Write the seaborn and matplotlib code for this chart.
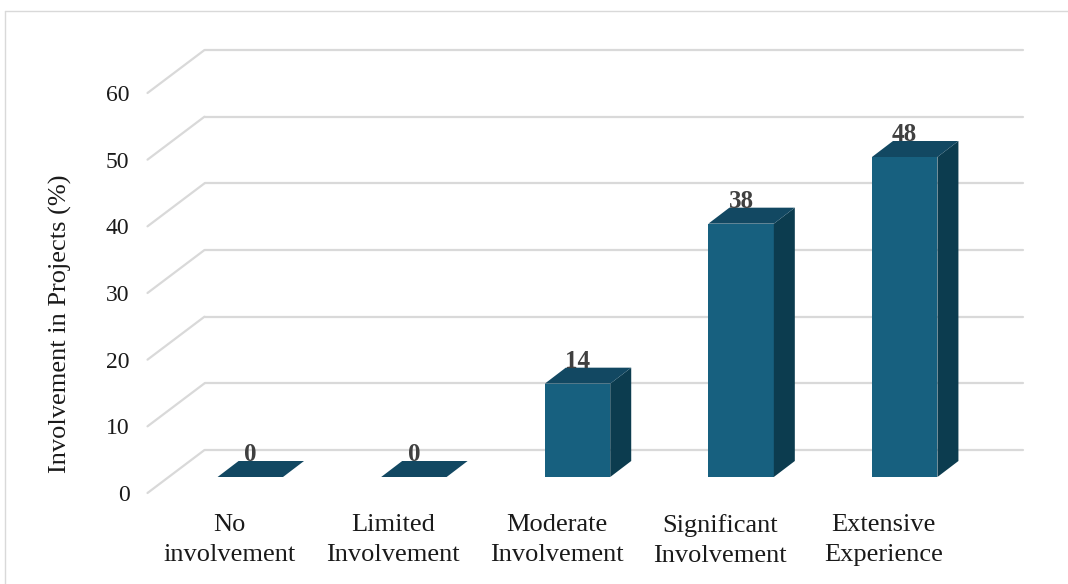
import matplotlib
matplotlib.use("Agg")
import matplotlib.pyplot as plt
from matplotlib.patches import Polygon
from matplotlib.lines import Line2D
import seaborn as sns
import pandas as pd

# Data
categories = ["No\ninvolvement", "Limited\nInvolvement", "Moderate\nInvolvement",
              "Significant\nInvolvement", "Extensive\nExperience"]
values = [0, 0, 14, 38, 48]
y_ticks = [0, 10, 20, 30, 40, 50, 60]
y_title = "Involvement in Projects (%)"

# Styling
FRONT = "#17607F"
TOP = "#124862"
SIDE = "#0C3C4F"
GRID = "#D9D9D9"
LABEL_COLOR = "#404040"
FONT = "Liberation Serif"

# pseudo-3D depth offsets in pixels (dx, dy), relative to the bar front plane
BAR_DEPTH = (21, 16)
FRONT_WALL = (-21, -16)
BACK_WALL = (36, 27)

sns.set_theme(style="white")
plt.rcParams["font.family"] = [FONT, "DejaVu Serif"]

W, H = 1068, 584
fig = plt.figure(figsize=(W / 100, H / 100), dpi=100)
ax = fig.add_axes([168.5 / W, (H - 477) / H, 818 / W, 400 / H])

df = pd.DataFrame({"category": categories, "value": values})
sns.barplot(data=df, x="category", y="value", color=FRONT, saturation=1,
            width=0.4, ax=ax, zorder=3, linewidth=0)

ax.set_xlim(-0.5, 4.5)
ax.set_ylim(0, 60)
ax.axis("off")

# pixel -> data scale
p0 = ax.transData.transform((0, 0))
p1 = ax.transData.transform((1, 1))
sx, sy = p1[0] - p0[0], p1[1] - p0[1]


def off(px):
    return px[0] / sx, px[1] / sy


bdx, bdy = off(BAR_DEPTH)
fdx, fdy = off(FRONT_WALL)
kdx, kdy = off(BACK_WALL)

# gridlines: back wall + left side-wall diagonals
for v in y_ticks:
    ax.add_line(Line2D([-0.5 + kdx, 4.5 + kdx], [v + kdy, v + kdy], color=GRID,
                       lw=1.6, zorder=1, clip_on=False))
    ax.add_line(Line2D([-0.5 + fdx, -0.5 + kdx], [v + fdy, v + kdy], color=GRID,
                       lw=1.6, zorder=1, clip_on=False))
    ax.annotate(str(v), xy=(-0.5 + fdx, v + fdy), xytext=(-18, 0),
                textcoords="offset pixels", ha="right", va="center_baseline",
                fontsize=17, color="#1a1a1a", annotation_clip=False)

# side and top faces of each bar
for patch, v in zip(ax.patches, values):
    x0 = patch.get_x()
    w = patch.get_width()
    x1 = x0 + w
    h = patch.get_height()
    side = Polygon([(x1, 0), (x1 + bdx, bdy), (x1 + bdx, h + bdy), (x1, h)],
                   closed=True, facecolor=SIDE, edgecolor="none", zorder=3,
                   clip_on=False)
    top = Polygon([(x0, h), (x1, h), (x1 + bdx, h + bdy), (x0 + bdx, h + bdy)],
                  closed=True, facecolor=TOP, edgecolor="none", zorder=3,
                  clip_on=False)
    ax.add_patch(side)
    ax.add_patch(top)
    ax.annotate(f"{v:g}", xy=(x0 + w / 2, h + bdy), xytext=(0, 0),
                textcoords="offset pixels", ha="center", va="baseline",
                fontsize=18, fontweight="bold", color=LABEL_COLOR,
                annotation_clip=False, zorder=4)

# category labels on the front plane
for i, c in enumerate(categories):
    ax.annotate(c, xy=(i + fdx, fdy), xytext=(0, -21), textcoords="offset pixels",
                ha="center", va="top", fontsize=19, color="#1a1a1a",
                linespacing=1.48, annotation_clip=False)

# axis title
fig.text(60 / W, 1 - 324 / H, y_title, rotation=90, ha="center", va="center",
         fontsize=19, color="#1a1a1a")

# outer chart border (left and top edges)
fig.add_artist(Line2D([4.5 / W, 4.5 / W], [0, 1 - 11 / H], color=GRID, lw=1,
                      transform=fig.transFigure))
fig.add_artist(Line2D([4.5 / W, 1], [1 - 11 / H, 1 - 11 / H], color=GRID, lw=1,
                      transform=fig.transFigure))

fig.savefig("out.png", dpi=100)
